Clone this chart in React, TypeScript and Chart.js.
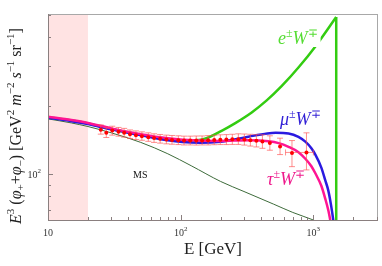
import React, { useEffect, useRef } from 'react';
import { Chart, registerables } from 'chart.js';
Chart.register(...registerables);

const SERIF = '"Liberation Serif", "Times New Roman", serif';

// ---- data ----
const msE = [10, 15, 20, 30, 50, 80, 120, 200, 300, 500, 700, 1000, 1300];
const msV = [175, 168, 162, 152, 138, 123, 109, 93, 84, 74, 68, 63, 59];

const muE = [10, 15, 20, 30, 50, 80, 103, 140, 200, 243, 330, 450, 520, 650, 772, 870, 966, 1035, 1148, 1230, 1295, 1360, 1412, 1450];
const muV = [177, 171, 166, 157.5, 148.5, 141, 138.5, 137.5, 139, 141.5, 146.5, 151, 152, 151, 146, 139, 130, 122, 107, 94, 85, 73, 63, 55];

const tauE = [10, 15, 20, 30, 50, 80, 137, 200, 326, 460, 547, 650, 772, 870, 966, 1035, 1148, 1230, 1300, 1340, 1400];
const tauV = [179, 173, 168, 159, 150, 144, 140.5, 140, 141, 139.5, 137, 132, 125, 117, 108.5, 101, 89, 78, 69, 63, 55];

const eE = [10, 15, 20, 30, 50, 80, 110, 145, 205, 260, 343, 445, 576, 772, 1053, 1487];
const eV = [178, 172, 167, 158, 149, 142.5, 140.5, 142, 155.6, 168.2, 186.8, 210.9, 243.5, 294, 368.7, 489.8];
const eDropE = [1487, 1487];
const eDropV = [489.8, 40];

const dataE = [25, 27.5, 30.5, 34, 37.5, 41.5, 46, 51, 57, 63, 70, 78, 86, 96, 106, 118, 131, 145, 161, 179, 199, 221, 245, 272, 302, 335, 372, 413, 470, 561, 690, 887];
const dataV = [157, 152, 155.5, 153.5, 152, 150, 148.5, 147, 145.5, 144.3, 143, 142, 141.5, 141, 140.8, 140.7, 140.7, 140.8, 141, 141.4, 141.8, 142, 142.3, 142.6, 142, 141.2, 140.2, 139.2, 137, 132.5, 124, 124.7];
const dataHi = [164.5, 160, 162.5, 160.5, 159, 156.5, 155, 153.5, 152, 150.5, 149.5, 148.5, 148, 147.5, 147, 147, 147.2, 147.3, 147.8, 148.3, 149, 149.3, 149.8, 150.5, 150.2, 149.8, 149.3, 149, 147.5, 144, 140.6, 152];
const dataLo = [150, 145, 148.5, 147, 145.5, 143.5, 142, 141, 139.5, 138, 137, 136, 135.5, 135, 134.5, 134.5, 134.3, 134.5, 134.5, 134.8, 135, 135, 135.2, 135.2, 134.3, 133, 131.8, 130, 127.5, 122, 108, 104.5];
const dataXLo: (number | null)[] = [null, null, null, null, null, null, null, null, null, null, null, null, null, null, null, null, null, null, null, null, null, null, null, null, null, null, null, null, null, null, null, 617];
const dataXHi: (number | null)[] = [null, null, null, null, null, null, null, null, null, null, null, null, null, null, null, null, null, null, null, null, null, null, null, null, null, null, null, null, null, null, null, 1000];

const bandLo = 10;
const bandHi = 20;

const xMajor = [10, 100, 1000];
const xMajorLabels = [['10', ''], ['10', '2'], ['10', '3']];
const xMinor = [20, 30, 40, 50, 60, 70, 80, 90, 200, 300, 400, 500, 600, 700, 800, 900, 2000, 3000];
const yMajor = [100];
const yMajorLabels = [['10', '2']];
const yMinor = [70, 80, 90, 200, 300, 400, 500];

const X_MIN = 10, X_MAX = 3070, Y_MIN = 63, Y_MAX = 505;

const C_GREEN = '#33cc11';
const C_BLUE = '#2a1ae0';
const C_PINK = '#ff1493';
const C_MS = '#3d6b3a';

type Run = { t: string; it?: boolean; s?: number; dy?: number };

function runsWidth(ctx: CanvasRenderingContext2D, runs: Run[], size: number) {
  let w = 0;
  for (const r of runs) {
    ctx.font = `${r.it ? 'italic ' : ''}${r.s ?? size}px ${SERIF}`;
    w += ctx.measureText(r.t).width;
  }
  return w;
}
function drawRuns(ctx: CanvasRenderingContext2D, runs: Run[], x: number, y: number, size: number, color: string) {
  let cx = x;
  ctx.fillStyle = color;
  ctx.textBaseline = 'alphabetic';
  ctx.textAlign = 'left';
  for (const r of runs) {
    ctx.font = `${r.it ? 'italic ' : ''}${r.s ?? size}px ${SERIF}`;
    ctx.fillText(r.t, cx, y + (r.dy ?? 0));
    cx += ctx.measureText(r.t).width;
  }
  return cx - x;
}

const pts = (xs: number[], ys: number[]) => xs.map((x, i) => ({ x, y: ys[i] }));

const labelRuns = (a: string): Run[] => [
  { t: a, it: true },
  { t: '±', s: 12, dy: -7 },
  { t: 'W', it: true },
  { t: '∓', s: 12, dy: -7 },
];

const yTitle: Run[] = [
  { t: 'E', it: true }, { t: '3', s: 11, dy: -7 }, { t: ' (' }, { t: 'φ', it: true }, { t: '+', s: 11, dy: 3 },
  { t: '+' }, { t: 'φ', it: true }, { t: '−', s: 11, dy: 3 }, { t: ') [GeV' }, { t: '2', s: 11, dy: -7 },
  { t: ' ' }, { t: 'm', it: true }, { t: '−2', s: 11, dy: -7 }, { t: ' ' }, { t: 's', it: true },
  { t: '−1', s: 11, dy: -7 }, { t: ' sr' }, { t: '−1', s: 11, dy: -7 }, { t: ']' },
];

const DATA_INDEX = 0;

const customPlugin = {
  id: 'custom',
  beforeDatasetsDraw(chart: any) {
    const { ctx, chartArea: a, scales } = chart;
    const x0 = scales.x.getPixelForValue(bandLo);
    const x1 = scales.x.getPixelForValue(bandHi);
    ctx.save();
    ctx.fillStyle = '#ffe3e3';
    ctx.fillRect(x0, a.top, x1 - x0, a.bottom - a.top);
    ctx.restore();
  },
  beforeDatasetDraw(chart: any, args: any) {
    if (args.index !== DATA_INDEX) return;
    const { ctx, scales } = chart;
    const sx = scales.x, sy = scales.y;
    ctx.save();
    ctx.strokeStyle = 'rgba(255,80,80,0.65)';
    ctx.lineWidth = 1;
    for (let i = 0; i < dataE.length; i++) {
      const px = sx.getPixelForValue(dataE[i]);
      const py = sy.getPixelForValue(dataV[i]);
      const ph = sy.getPixelForValue(dataHi[i]);
      const pl = sy.getPixelForValue(dataLo[i]);
      ctx.beginPath();
      ctx.moveTo(px, ph); ctx.lineTo(px, pl);
      ctx.moveTo(px - 3, ph); ctx.lineTo(px + 3, ph);
      ctx.moveTo(px - 3, pl); ctx.lineTo(px + 3, pl);
      const xl = dataXLo[i], xh = dataXHi[i];
      if (xl != null && xh != null) {
        const pxl = sx.getPixelForValue(xl), pxh = sx.getPixelForValue(xh);
        ctx.moveTo(pxl, py); ctx.lineTo(pxh, py);
        ctx.moveTo(pxl, py - 3); ctx.lineTo(pxl, py + 3);
        ctx.moveTo(pxh, py - 3); ctx.lineTo(pxh, py + 3);
      }
      ctx.stroke();
    }
    ctx.restore();
  },
  afterDatasetsDraw(chart: any) {
    const { ctx, chartArea: a, scales } = chart;
    const sx = scales.x, sy = scales.y;
    ctx.save();
    // frame
    ctx.lineWidth = 1;
    ctx.strokeStyle = '#a8a8a8';
    ctx.beginPath();
    ctx.moveTo(a.left, a.top + 0.5); ctx.lineTo(a.right, a.top + 0.5);
    ctx.moveTo(a.right - 0.5, a.top); ctx.lineTo(a.right - 0.5, a.bottom);
    ctx.stroke();
    ctx.strokeStyle = '#8a7f7f';
    ctx.beginPath();
    ctx.moveTo(a.left + 0.5, a.top); ctx.lineTo(a.left + 0.5, a.bottom);
    ctx.moveTo(a.left, a.bottom + 0.5); ctx.lineTo(a.right, a.bottom + 0.5);
    ctx.stroke();
    // ticks
    ctx.beginPath();
    for (const v of xMajor) {
      const p = Math.round(sx.getPixelForValue(v)) + 0.5;
      ctx.moveTo(p, a.bottom); ctx.lineTo(p, a.bottom - 5);
    }
    for (const v of xMinor) {
      const p = Math.round(sx.getPixelForValue(v)) + 0.5;
      ctx.moveTo(p, a.bottom); ctx.lineTo(p, a.bottom - 3);
    }
    for (const v of yMajor) {
      const p = Math.round(sy.getPixelForValue(v)) + 0.5;
      ctx.moveTo(a.left, p); ctx.lineTo(a.left + 5, p);
    }
    for (const v of yMinor) {
      const p = Math.round(sy.getPixelForValue(v)) + 0.5;
      ctx.moveTo(a.left, p); ctx.lineTo(a.left + 3, p);
    }
    ctx.stroke();
    // tick labels
    xMajor.forEach((v, i) => {
      const [b, e] = xMajorLabels[i];
      const runs: Run[] = [{ t: b }, { t: e, s: 7, dy: -5 }];
      const w = runsWidth(ctx, runs, 10);
      drawRuns(ctx, runs, sx.getPixelForValue(v) - w / 2, a.bottom + 16, 10, '#333');
    });
    yMajor.forEach((v, i) => {
      const [b, e] = yMajorLabels[i];
      const runs: Run[] = [{ t: b }, { t: e, s: 7, dy: -5 }];
      const w = runsWidth(ctx, runs, 10);
      drawRuns(ctx, runs, a.left - 7 - w, sy.getPixelForValue(v) + 3.5, 10, '#333');
    });
    // x title
    {
      const runs: Run[] = [{ t: 'E [GeV]' }];
      const w = runsWidth(ctx, runs, 17);
      drawRuns(ctx, runs, (a.left + a.right) / 2 - w / 2, 254, 17, '#222');
    }
    // y title
    {
      const w = runsWidth(ctx, yTitle, 16);
      ctx.save();
      ctx.translate(21, 126 + w / 2);
      ctx.rotate(-Math.PI / 2);
      drawRuns(ctx, yTitle, 0, 0, 16, '#222');
      ctx.restore();
    }
    // curve labels
    {
      const r = labelRuns('e');
      const w = runsWidth(ctx, r, 18);
      ctx.fillStyle = '#ffffff';
      ctx.fillRect(277, 28, w + 4, 19);
      drawRuns(ctx, r, 278, 43.5, 18, '#55dd33');
    }
    drawRuns(ctx, labelRuns('μ'), 280, 125, 18, '#3322d6');
    drawRuns(ctx, labelRuns('τ'), 267, 184.5, 18, '#ee1a8c');
    drawRuns(ctx, [{ t: 'MS' }], 133, 178, 10, '#111');
    ctx.restore();
  },
};

export default function App() {
  const ref = useRef<HTMLCanvasElement | null>(null);
  useEffect(() => {
    if (!ref.current) return;
    const lineDs = (label: string, xs: number[], ys: number[], color: string, width: number, order: number, smooth = true) => ({
      label,
      data: pts(xs, ys),
      borderColor: color,
      backgroundColor: color,
      borderWidth: width,
      pointRadius: 0,
      fill: false,
      order,
      clip: 0,
      cubicInterpolationMode: smooth ? 'monotone' : 'default',
      tension: smooth ? 0.4 : 0,
    });
    const chart = new Chart(ref.current, {
      type: 'line',
      data: {
        datasets: [
          {
            label: 'data',
            data: pts(dataE, dataV),
            showLine: false,
            pointRadius: 2,
            pointBackgroundColor: '#ff0000',
            pointBorderWidth: 0,
            borderColor: '#ff0000',
            order: 0,
            clip: 0,
          } as any,
          lineDs('tau', tauE, tauV, C_PINK, 2.5, 1),
          lineDs('mu', muE, muV, C_BLUE, 2.5, 2),
          lineDs('e', eE, eV, C_GREEN, 2.5, 3),
          lineDs('eDrop', eDropE, eDropV, C_GREEN, 2.5, 3, false),
          lineDs('MS', msE, msV, C_MS, 1, 4),
        ],
      },
      options: {
        animation: false,
        responsive: false,
        maintainAspectRatio: false,
        devicePixelRatio: 1,
        layout: { padding: { left: 48, top: 14, right: 2, bottom: 46 } },
        plugins: { legend: { display: false }, tooltip: { enabled: false } },
        scales: {
          x: { type: 'logarithmic', min: X_MIN, max: X_MAX, display: false },
          y: { type: 'logarithmic', min: Y_MIN, max: Y_MAX, display: false },
        },
      } as any,
      plugins: [customPlugin as any],
    });
    return () => chart.destroy();
  }, []);
  return (
    <div style={{ position: 'fixed', left: 0, top: 0, width: 382, height: 266, background: '#fff' }}>
      <canvas ref={ref} width={382} height={266} style={{ display: 'block' }} />
    </div>
  );
}
